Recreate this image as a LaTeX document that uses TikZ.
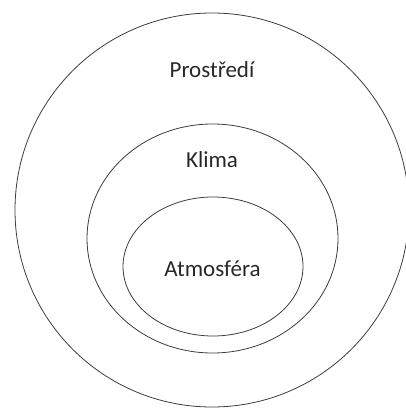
\documentclass[tikz,border=0pt]{standalone}
\usepackage{fontspec}
\setmainfont{Carlito}
\usetikzlibrary{math}
\definecolor{qline}{RGB}{60,60,60}
\definecolor{qtext}{RGB}{40,40,40}

\begin{document}
\begin{tikzpicture}[x=1pt,y=-1pt]

\tikzmath{
%outer circle
\Rx = 197;
\Ry = 197;
%middle ellipse
\Mx = 125.5;
\My = 114.5;
%inner ellipse
\Ix = 90;
\Iy = 69.5;
}

\tikzset{ring/.style={draw=qline, line width=0.8pt},
  label/.style={text=qtext, font=\fontsize{23}{26}\selectfont, inner sep=0pt}}

\useasboundingbox (0,0) rectangle (406,409);

\coordinate (O) at (212,210);
\coordinate (M) at (212.5,238.5);
\coordinate (I) at (213,266.5);

%rings:
\draw[ring] (O) ellipse[x radius=\Rx, y radius=\Ry];
\draw[ring] (M) ellipse[x radius=\Mx, y radius=\My];
\draw[ring] (I) ellipse[x radius=\Ix, y radius=\Iy];

%labels
\node[label] (prostredi) at (212,70) {Prostředí};
\node[label] (klima) at (212,160) {Klima};
\node[label] (atmosfera) at (212.5,269) {Atmosféra};

\end{tikzpicture}
\end{document}
